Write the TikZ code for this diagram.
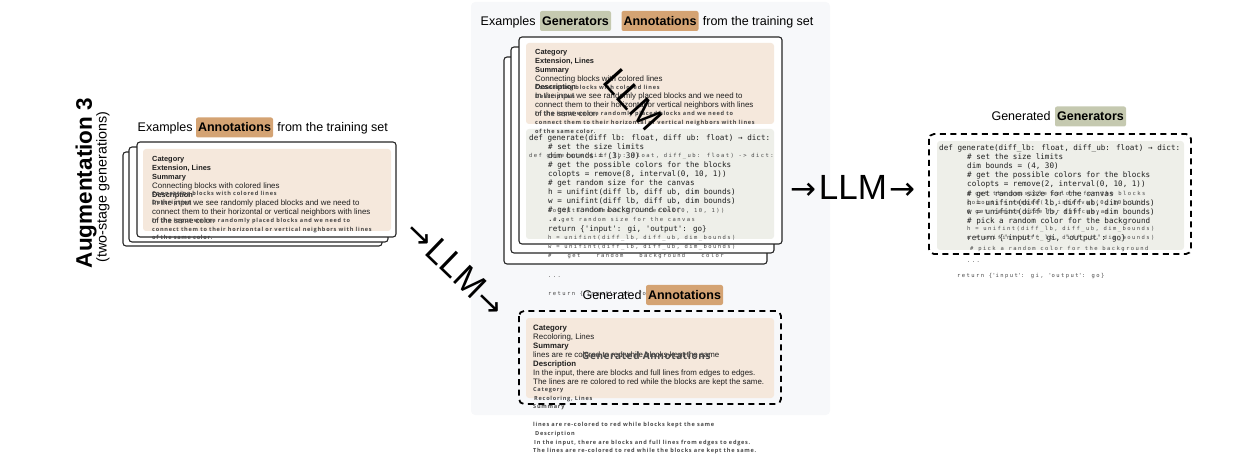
\documentclass[tikz,border=0pt]{standalone}
\usepackage{fontspec}
\setmainfont{Liberation Sans}
\newfontfamily\codefont{DejaVu Sans Mono}
\newfontfamily\ghostsans[LetterSpace=13]{Open Sans}
\newfontfamily\ghostbig[LetterSpace=6]{Open Sans}
\newfontfamily\ghostmono[LetterSpace=26]{DejaVu Sans Mono}
\newfontfamily\arrowfont{DejaVu Sans}
\newcommand\sq{\textquotesingle}
\definecolor{annot}{HTML}{D4A373}
\definecolor{gens}{HTML}{C5C9B0}
\definecolor{beige}{HTML}{F5E8DC}
\definecolor{codebg}{HTML}{EEEFE9}
\definecolor{panel}{HTML}{F7F8FA}
\begin{document}
\begin{tikzpicture}[x=1pt,y=-1pt,
  card/.style={draw=black!85,line width=1.1pt,fill=white,rounded corners=3pt},
  beigebox/.style={fill=beige,rounded corners=3pt},
  codebox/.style={fill=codebg,rounded corners=3pt},
  dashbox/.style={draw=black,line width=1.8pt,dash pattern=on 6pt off 4.5pt,rounded corners=5pt},
  hlA/.style={fill=annot,rounded corners=2pt,font=\bfseries\fontsize{12.5}{14}\selectfont,minimum width=77pt,minimum height=20pt,inner sep=0pt},
  hlG/.style={fill=gens,rounded corners=2pt,font=\bfseries\fontsize{12.5}{14}\selectfont,minimum width=71pt,minimum height=20pt,inner sep=0pt},
  ttl/.style={font=\fontsize{12.5}{14}\selectfont,inner sep=0pt},
  main/.style={anchor=base west,inner sep=0pt,font=\fontsize{7.9}{9}\selectfont,text=black!88},
  mainb/.style={anchor=base west,inner sep=0pt,font=\bfseries\fontsize{7.4}{9}\selectfont,text=black!88},
  mainbb/.style={anchor=base west,inner sep=0pt,font=\bfseries\fontsize{7.8}{9}\selectfont,text=black!88},
  ghost/.style={anchor=base west,inner sep=0pt,font=\ghostsans\bfseries\fontsize{5.6}{7}\selectfont,text=black!72},
  code/.style={anchor=base west,inner sep=0pt,font=\codefont\fontsize{7.6}{9}\selectfont,text=black!88},
  gcode/.style={anchor=base west,inner sep=0pt,font=\ghostmono\fontsize{5.5}{7}\selectfont,text=black!72},
  llm/.style={inner sep=0pt,font=\fontsize{35}{35}\selectfont}
]
\useasboundingbox (0,0) rectangle (1255,454);

% ---------- left: title ----------
\node[rotate=90,font=\bfseries\fontsize{22.5}{25}\selectfont,inner sep=0pt] (aug) at (86,183) {Augmentation 3};
\node[rotate=90,font=\fontsize{14.3}{16}\selectfont,inner sep=0pt] (two) at (103,187) {(two-stage generations)};

\node[hlA] (lhl) at (234.5,127.5) {Annotations};
\node[ttl,anchor=base east] (lex) at ([xshift=-3pt]lhl.base west) {Examples};
\node[ttl,anchor=base west] (lfr) at ([xshift=4pt]lhl.base east) {from the training set};

% left cards
\draw[card] (123,152) rectangle (382,246);
\draw[card] (129,147) rectangle (388,242);
\draw[card] (137,142) rectangle (396,237);
\fill[beigebox] (143,149) rectangle (391,231);
\node[mainb] (la1) at (152,161.5) {Category};
\node[mainb] (la2) at (152,170.4) {Extension, Lines};
\node[mainb] (la3) at (152,179.3) {Summary};
\node[main]  (la4) at (152,188.2) {Connecting blocks with colored lines};
\node[mainb] (la5) at (152,197.1) {Description};
\node[main]  (la6) at (152,206) {In the input we see randomly placed blocks and we need to};
\node[main]  (la7) at (152,214.9) {connect them to their horizontal or vertical neighbors with lines};
\node[main]  (la8) at (152,223.8) {of the same color.};
\node[ghost] (lg1) at (152,196) {Connecting blocks with colored lines};
\node[ghost] (lg2) at (152,205) {Description};
\node[ghost] (lg3) at (152,223) {In the input we see randomly placed blocks and we need to};
\node[ghost] (lg4) at (152,231.5) {connect them to their horizontal or vertical neighbors with lines};
\node[ghost] (lg5) at (152,240) {of the same color.};

% ---------- middle panel ----------
\fill[panel,rounded corners=4pt] (471,2) rectangle (830,415);
\node[hlG] (mg) at (575.5,21) {Generators};
\node[hlA] (ma) at (660,21) {Annotations};
\node[ttl,anchor=base east] (mex) at ([xshift=-4pt]mg.base west) {Examples};
\node[ttl,anchor=base west] (mfr) at ([xshift=4pt]ma.base east) {from the training set};

\draw[card] (504,57) rectangle (767,264);
\draw[card] (511,47) rectangle (774,253);
\draw[card] (519,37) rectangle (782,244);
\fill[beigebox] (526,43) rectangle (774,124);
\fill[codebox] (526,129) rectangle (774,239);

\node[mainb] (ma1) at (535,54.5) {Category};
\node[mainb] (ma2) at (535,63.4) {Extension, Lines};
\node[mainb] (ma3) at (535,72.2) {Summary};
\node[main]  (ma4) at (535,81.1) {Connecting blocks with colored lines};
\node[mainb] (ma5) at (535,89.9) {Description};
\node[main]  (ma6) at (535,98.8) {In the input we see randomly placed blocks and we need to};
\node[main]  (ma7) at (535,107.6) {connect them to their horizontal or vertical neighbors with lines};
\node[main]  (ma8) at (535,116.5) {of the same color.};
\node[ghost] (mg1) at (535,90) {Connecting blocks with colored lines};
\node[ghost] (mg2) at (535,99) {Description};
\node[ghost] (mg3) at (535,116) {In the input we see randomly placed blocks and we need to};
\node[ghost] (mg4) at (535,125) {connect them to their horizontal or vertical neighbors with lines};
\node[ghost] (mg5) at (535,134) {of the same color.};

\node[code] (mc1) at (529,140.5) {def generate(diff lb: float, diff ub: float) → dict:};
\node[code] (mc2) at (548,149.5) {\# set the size limits};
\node[code] (mc3) at (548,158.5) {dim bounds = (3, 30)};
\node[code] (mc4) at (548,168) {\# get the possible colors for the blocks};
\node[code] (mc5) at (548,177) {colopts = remove(8, interval(0, 10, 1))};
\node[code] (mc6) at (548,186) {\# get random size for the canvas};
\node[code] (mc7) at (548,195) {h = unifint(diff lb, diff ub, dim bounds)};
\node[code] (mc8) at (548,204) {w = unifint(diff lb, diff ub, dim bounds)};
\node[code] (mc9) at (548,213) {\# get random background color};
\node[code] (mc10) at (548,222) {...};
\node[code] (mc11) at (548,231.5) {return \{\sq input\sq: gi, \sq output\sq: go\}};

\node[gcode] (mx1) at (529,158) {def generate(diff\_lb: float, diff\_ub: float) -> dict:};
\node[gcode] (mx2) at (548,213) {colopts = remove(2, interval(0, 10, 1))};
\node[gcode] (mx3) at (553,222) {\# get random size for the canvas};
\node[gcode] (mx4) at (548,240) {h = unifint(diff\_lb, diff\_ub, dim\_bounds)};
\node[gcode] (mx5) at (548,249) {w = unifint(diff\_lb, diff\_ub, dim\_bounds)};
\node[gcode] (mx6) at (548,258) {\#\hspace{16pt}get\hspace{16pt}random\hspace{16pt}background\hspace{16pt}color};
\node[gcode] (mx7) at (548,277) {...};
\node[gcode] (mx8) at (548,295) {return \{\sq input\sq: gi, \sq output\sq: go\}};

% big rotated LLM across the card
\node[llm,rotate=-48] (gllm) at (633,100) {LLM};

% generated annotations
\node[hlA] (ga) at (684.5,295) {Annotations};
\node[ttl,anchor=base east] (gax) at ([xshift=-4pt]ga.base west) {Generated};
\draw[dashbox] (519,311) rectangle (781,404);
\fill[beigebox] (526,318) rectangle (774,398);
\node[mainbb] (gb1) at (533,330.5) {Category};
\node[main]  (gb2) at (533,339.5) {Recoloring, Lines};
\node[mainbb] (gb3) at (533,348.5) {Summary};
\node[main]  (gb4) at (533,357.5) {lines are re colored to red while blocks kept the same};
\node[mainbb] (gb5) at (533,366.5) {Description};
\node[main]  (gb6) at (533,375.5) {In the input, there are blocks and full lines from edges to edges.};
\node[main]  (gb7) at (533,384.5) {The lines are re colored to red while the blocks are kept the same.};
\node[anchor=base west,inner sep=0pt,font=\ghostbig\bfseries\fontsize{10}{12}\selectfont,text=black!70] (gbig) at (582,359) {Generated Annotations};
\node[ghost] (gg1) at (533,391) {Category};
\node[ghost] (gg2) at (534,400) {Recoloring, Lines};
\node[ghost] (gg3) at (533,408.5) {Summary};
\node[ghost] (gg4) at (533,426) {lines are re-colored to red while blocks kept the same};
\node[ghost] (gg5) at (535,435) {Description};
\node[ghost] (gg6) at (534,444) {In the input, there are blocks and full lines from edges to edges.};
\node[ghost] (gg7) at (533,452.5) {The lines are re-colored to red while the blocks are kept the same.};

% ---------- LLM arrows ----------
\node[inner sep=0pt,rotate=-44] (d1) at (456,268) {{\arrowfont\fontsize{31}{31}\selectfont →}\hspace{2pt}{\fontsize{35}{35}\selectfont LLM}\hspace{2pt}{\arrowfont\fontsize{31}{31}\selectfont →}};
\node[inner sep=0pt] (d2) at (853,187) {{\arrowfont\fontsize{31}{31}\selectfont →}\hspace{2pt}{\fontsize{35}{35}\selectfont LLM}\hspace{2pt}{\arrowfont\fontsize{31}{31}\selectfont →}};

% ---------- right ----------
\node[hlG] (rg) at (1090.5,116.5) {Generators};
\node[ttl,anchor=base east] (rgx) at ([xshift=-4pt]rg.base west) {Generated};
\draw[dashbox] (929,134) rectangle (1191,254);
\fill[codebox] (937,141) rectangle (1184,250);
\node[code] (rc1) at (939,150.5) {def generate(diff\_lb: float, diff\_ub: float) → dict:};
\node[code] (rc2) at (967,159.5) {\# set the size limits};
\node[code] (rc3) at (967,168.5) {dim bounds = (4, 30)};
\node[code] (rc4) at (967,177.5) {\# get the possible colors for the blocks};
\node[code] (rc5) at (967,186.5) {colopts = remove(2, interval(0, 10, 1))};
\node[code] (rc6) at (967,196.5) {\# get random size for the canvas};
\node[code] (rc7) at (967,205.5) {h = unifint(diff lb, diff ub, dim bounds)};
\node[code] (rc8) at (967,214.5) {w = unifint(diff lb, diff ub, dim bounds)};
\node[code] (rc9) at (967,223.5) {\# pick a random color for the background};
\node[code] (rc10) at (967,240.5) {return \{\sq input\sq: gi, \sq output\sq: go\}};
\node[gcode] (rx1) at (967,196) {\# get the possible colors for the blocks};
\node[gcode] (rx2) at (967,205) {colopts = remove(2, interval(0, 10, 1))};
\node[gcode] (rx3) at (967,214) {\# get random size for the canvas};
\node[gcode] (rx4) at (967,231) {h = unifint(diff\_lb, diff\_ub, dim\_bounds)};
\node[gcode] (rx5) at (967,240) {w = unifint(diff\_lb, diff\_ub, dim\_bounds)};
\node[gcode] (rx6) at (970,251) {\# pick a random color for the background};
\node[gcode] (rx7) at (967,262) {...};
\node[gcode] (rx8) at (957,278) {return \{\sq input\sq: gi, \sq output\sq: go\}};
\end{tikzpicture}
\end{document}
